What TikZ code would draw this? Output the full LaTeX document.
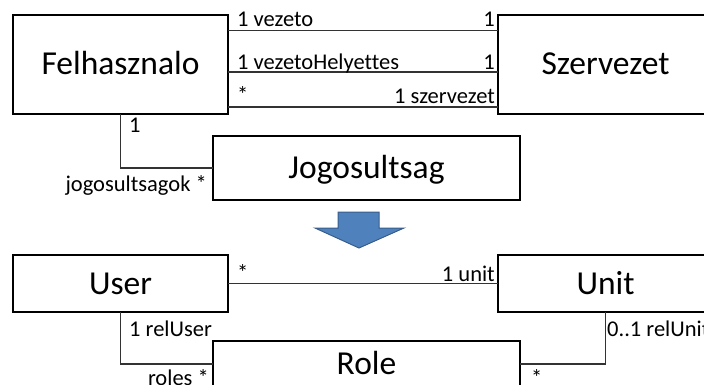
\documentclass[tikz,border=0pt]{standalone}
\usepackage{fontspec}
\setmainfont{Carlito}[Ligatures=NoCommon]
\begin{document}
\begin{tikzpicture}[x=1pt,y=-1pt,
  cls/.style={draw=black,line width=2pt,inner sep=0pt,outer sep=0pt,text height=21pt,text depth=0pt,font=\fontsize{33.5}{36}\selectfont},
  conn/.style={draw=black!80,line width=1.4pt},
  lbl/.style={inner sep=0pt,font=\fontsize{22.5}{24}\selectfont},
  arrowshape/.style={fill={rgb,255:red,79;green,129;blue,189},draw={rgb,255:red,56;green,93;blue,138},line width=1pt,line join=miter}]
\useasboundingbox (0,0) rectangle (704,385);
\clip (0,0) rectangle (704,385);
% classes
\node[cls,minimum width=215pt,minimum height=99pt] (fel) at (120.5,64.5) {Felhasznalo};
\node[cls,minimum width=215pt,minimum height=99pt] (sze) at (605.5,64.5) {Szervezet};
\node[cls,minimum width=307pt,minimum height=64pt] (jog) at (366.5,168) {Jogosultsag};
\node[cls,minimum width=215pt,minimum height=57pt] (usr) at (120.5,283.5) {User};
\node[cls,minimum width=215pt,minimum height=57pt] (unt) at (605.5,283.5) {Unit};
\node[cls,minimum width=307pt,minimum height=46pt] (rol) at (366.5,364) {Role};
% connectors
\draw[conn] (fel.east |- 0,30.5) -- (sze.west |- 0,30.5);
\draw[conn] (fel.east |- 0,72) -- (sze.west |- 0,72);
\draw[conn] (fel.east |- 0,107) -- (sze.west |- 0,107);
\draw[conn] (fel.south) |- (jog.west);
\draw[conn] (usr.east) -- (unt.west);
\draw[conn] (usr.south) |- (rol.west);
\draw[conn] (unt.south) |- (rol.east);
% arrow
\draw[arrowshape] (338,212) -- (379,212) -- (379,228) -- (404,228) -- (359,248) -- (315,228) -- (338,228) -- cycle;
% labels
\node[lbl,anchor=base west] (l1) at (237,27) {1 vezeto};
\node[lbl,anchor=base east] (l2) at (495,27) {1};
\node[lbl,anchor=base west] (l3) at (237,70) {1 vezetoHelyettes};
\node[lbl,anchor=base east] (l4) at (495,70) {1};
\node[lbl,anchor=base west] (l5) at (237,103) {*};
\node[lbl,anchor=base east] (l6) at (495,104) {1 szervezet};
\node[lbl,anchor=base west] (l7) at (129,132) {1};
\node[lbl,anchor=base east] (l8) at (207,191) {jogosultsagok *};
\node[lbl,anchor=base west] (l9) at (237,280) {*};
\node[lbl,anchor=base east] (l10) at (495,281) {1 unit};
\node[lbl,anchor=base west] (l11) at (129,336) {1 relUser};
\node[lbl,anchor=base west] (l12) at (607,336) {0..1 relUnit};
\node[lbl,anchor=base east] (l13) at (209,385) {roles *};
\node[lbl,anchor=base west] (l14) at (531,385) {*};
\end{tikzpicture}
\end{document}
